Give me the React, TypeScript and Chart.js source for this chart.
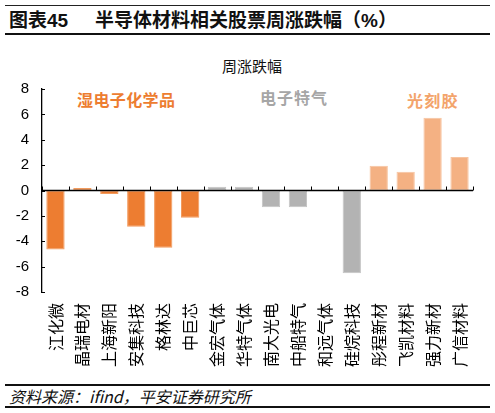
import React, { useEffect, useRef } from "react";
import { Chart, registerables } from "chart.js";

Chart.register(...registerables);

const categories = ["江化微", "晶瑞电材", "上海新阳", "安集科技", "格林达", "中巨芯", "金宏气体", "华特气体", "南大光电", "中船特气", "和远气体", "硅烷科技", "彤程新材", "飞凯材料", "强力新材", "广信材料"];
const weeklyChange = [-4.65, 0.2, -0.28, -2.86, -4.51, -2.15, 0.3, 0.29, -1.33, -1.33, 0, -6.53, 1.95, 1.47, 5.73, 2.65];
const groupNames = ["湿电子化学品", "电子特气", "光刻胶"];
const groupSizes = [6, 6, 4];
const yTicks = [-8, -6, -4, -2, 0, 2, 4, 6, 8];

const groupColors = ["#ED7D31", "#B3B3B3", "#F4B183"];
const groupBorders = ["#F29B5E", "#C4C4C4", "#F7C4A0"];
const groupTextColors = ["#ED7D31", "#A6A6A6", "#F3A46B"];

function groupIndex(i: number): number {
  let acc = 0;
  for (let g = 0; g < groupSizes.length; g++) {
    acc += groupSizes[g];
    if (i < acc) return g;
  }
  return groupSizes.length - 1;
}

const axisMarksPlugin = {
  id: "axisMarks",
  afterDatasetsDraw(chart: any) {
    const { ctx, chartArea, scales } = chart;
    const x = scales.x;
    const y = scales.y;
    const y0 = y.getPixelForValue(0);
    ctx.save();
    ctx.strokeStyle = "#000";
    ctx.lineWidth = 1.3;
    ctx.beginPath();
    ctx.moveTo(chartArea.left, y0);
    ctx.lineTo(chartArea.right, y0);
    ctx.stroke();
    ctx.lineWidth = 1;
    ctx.beginPath();
    for (let i = 0; i <= categories.length; i++) {
      const px = Math.round(x.getPixelForValue(i - 0.5)) + 0.5;
      ctx.moveTo(px, y0);
      ctx.lineTo(px, y0 - 4);
    }
    for (const t of yTicks) {
      const py = Math.round(y.getPixelForValue(t)) + 0.5;
      ctx.moveTo(chartArea.left, py);
      ctx.lineTo(chartArea.left + 3, py);
    }
    ctx.stroke();
    ctx.restore();
  },
};

function BarChart() {
  const ref = useRef<HTMLCanvasElement | null>(null);
  useEffect(() => {
    if (!ref.current) return;
    const chart = new Chart(ref.current, {
      type: "bar",
      data: {
        labels: categories,
        datasets: [
          {
            label: "周涨跌幅",
            data: weeklyChange,
            backgroundColor: (c: any) => groupColors[groupIndex(c.dataIndex)],
            borderColor: (c: any) => groupBorders[groupIndex(c.dataIndex)],
            borderWidth: 1,
            borderSkipped: false,
            categoryPercentage: 1,
            barPercentage: 0.68,
          },
        ],
      },
      options: {
        animation: false,
        responsive: true,
        maintainAspectRatio: false,
        layout: { padding: { top: 49, right: 22, left: 0, bottom: 0 } },
        plugins: { legend: { display: false }, tooltip: { enabled: false }, title: { display: false } },
        scales: {
          x: {
            grid: { display: false, drawTicks: false },
            border: { display: false },
            ticks: {
              autoSkip: false,
              maxRotation: 90,
              minRotation: 90,
              padding: 11,
              color: "#000",
              font: { family: "'Noto Sans CJK SC'", size: 16 },
            },
            afterFit: (s: any) => {
              s.height = 88;
            },
          },
          y: {
            min: -8,
            max: 8,
            afterBuildTicks: (s: any) => {
              s.ticks = yTicks.map((v) => ({ value: v }));
            },
            grid: { display: false, drawTicks: false },
            border: { display: true, color: "#000", width: 1.3 },
            ticks: {
              padding: 13,
              color: "#000",
              font: { family: "'Liberation Sans', Arial", size: 15 },
            },
            afterFit: (s: any) => {
              s.width = 42;
            },
          },
        },
      },
      plugins: [axisMarksPlugin],
    });
    return () => chart.destroy();
  }, []);
  return <canvas ref={ref} />;
}

export default function App() {
  const cjk = "'Liberation Sans', 'Noto Sans CJK SC', sans-serif";
  const line = (top: number, h: number, color: string) => (
    <div style={{ position: "absolute", left: 5, width: 485, top, height: h, background: color }} />
  );
  const annoPos = [
    { left: 77, top: 90, ls: 0.4 },
    { left: 260, top: 88, ls: 1 },
    { left: 407, top: 91, ls: 1.2 },
  ];
  return (
    <div style={{ position: "absolute", left: 0, top: 0, width: 495, height: 413, background: "#fff", overflow: "hidden", fontFamily: cjk }}>
      {line(5, 1, "#222")}
      <div style={{ position: "absolute", left: 9, top: 9, fontSize: 19, fontWeight: "bold", lineHeight: "24px", color: "#111", whiteSpace: "nowrap" }}>
        <span>图表45</span>
        <span style={{ position: "absolute", left: 86 }}>半导体材料相关股票周涨跌幅（%）</span>
      </div>
      {line(33, 1.6, "#111")}
      <div style={{ position: "absolute", left: 0, width: 504, top: 56, textAlign: "center", fontSize: 15, lineHeight: "20px", color: "#111", fontFamily: "'Noto Sans CJK SC', sans-serif" }}>
        周涨跌幅
      </div>
      {groupNames.map((n, i) => (
        <div
          key={n}
          style={{
            position: "absolute",
            left: annoPos[i].left,
            top: annoPos[i].top,
            fontSize: 16,
            lineHeight: "18px",
            fontWeight: "bold",
            letterSpacing: annoPos[i].ls,
            color: groupTextColors[i],
            whiteSpace: "nowrap",
            fontFamily: "'Noto Sans CJK SC', sans-serif",
          }}
        >
          {n}
        </div>
      ))}
      <div style={{ position: "absolute", left: 0, top: 40, width: 495, height: 340 }}>
        <BarChart />
      </div>
      {line(384, 1.6, "#111")}
      <div style={{ position: "absolute", left: 9, top: 386, fontSize: 16, lineHeight: "20px", fontStyle: "italic", color: "#111", whiteSpace: "nowrap", fontFamily: "'Noto Sans CJK SC', sans-serif" }}>
        资料来源：ifind，平安证券研究所
      </div>
      {line(406, 1.6, "#111")}
    </div>
  );
}
